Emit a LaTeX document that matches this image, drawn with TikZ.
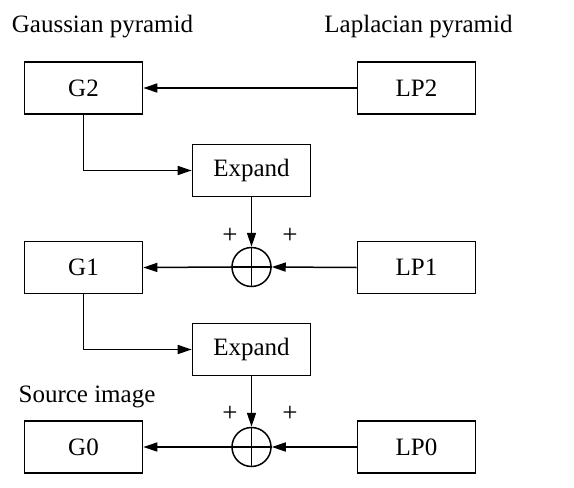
\documentclass[tikz,border=0pt]{standalone}
\usepackage{fontspec}
\setmainfont{Liberation Serif}
\usepackage{tikz}
\usetikzlibrary{arrows.meta, positioning}

\begin{document}
\begin{tikzpicture}[
  x=1pt, y=-1pt,
  font=\fontsize{25}{30}\selectfont,
  box/.style={draw, line width=1.6pt, minimum width=118pt, minimum height=52pt, inner sep=0pt},
  sum/.style={draw, circle, line width=1.5pt, minimum size=39pt, inner sep=0pt},
  sign/.style={font=\fontsize{27}{30}\selectfont, inner sep=0pt},
  arrow/.style={-{Triangle[length=14pt, width=9pt]}, line width=1.5pt}
]
\useasboundingbox (0,0) rectangle (574,488);
\node[anchor=base] (gausstitle) at (102.5,32) {Gaussian pyramid};
\node[anchor=base] (laptitle) at (418.5,32) {Laplacian pyramid};
\node[anchor=base] (srctitle) at (87,402) {Source image};

\node[box] (g2) at (83.5,88) {G2};
\node[box] (lp2) at (416.5,88) {LP2};
\node[box] (exp1) at (251.5,170.5) {Expand};
\node[sum] (sum1) at (251.5,267) {};
\node[box] (g1) at (83.5,267.5) {G1};
\node[box] (lp1) at (416.5,267.5) {LP1};
\node[box] (exp2) at (251.5,349.5) {Expand};
\node[sum] (sum2) at (251.5,447) {};
\node[box] (g0) at (83.5,447) {G0};
\node[box] (lp0) at (416.5,447) {LP0};

\node[sign] (plus1a) at (230,236) {+};
\node[sign] (plus1b) at (290,236) {+};
\node[sign] (plus2a) at (230,414) {+};
\node[sign] (plus2b) at (290,414) {+};

\draw[line width=1.5pt] (sum1.north) -- (sum1.south) (sum1.west) -- (sum1.east);
\draw[line width=1.5pt] (sum2.north) -- (sum2.south) (sum2.west) -- (sum2.east);

\draw[arrow] (lp2.west) -- (g2.east);
\draw[arrow] (g2.south) |- (exp1.west);
\draw[arrow] (exp1.south) -- (sum1.north);
\draw[arrow] (lp1.west) -- (sum1.east);
\draw[arrow] (sum1.west) -- (g1.east);
\draw[arrow] (g1.south) |- (exp2.west);
\draw[arrow] (exp2.south) -- (sum2.north);
\draw[arrow] (lp0.west) -- (sum2.east);
\draw[arrow] (sum2.west) -- (g0.east);
\end{tikzpicture}
\end{document}
